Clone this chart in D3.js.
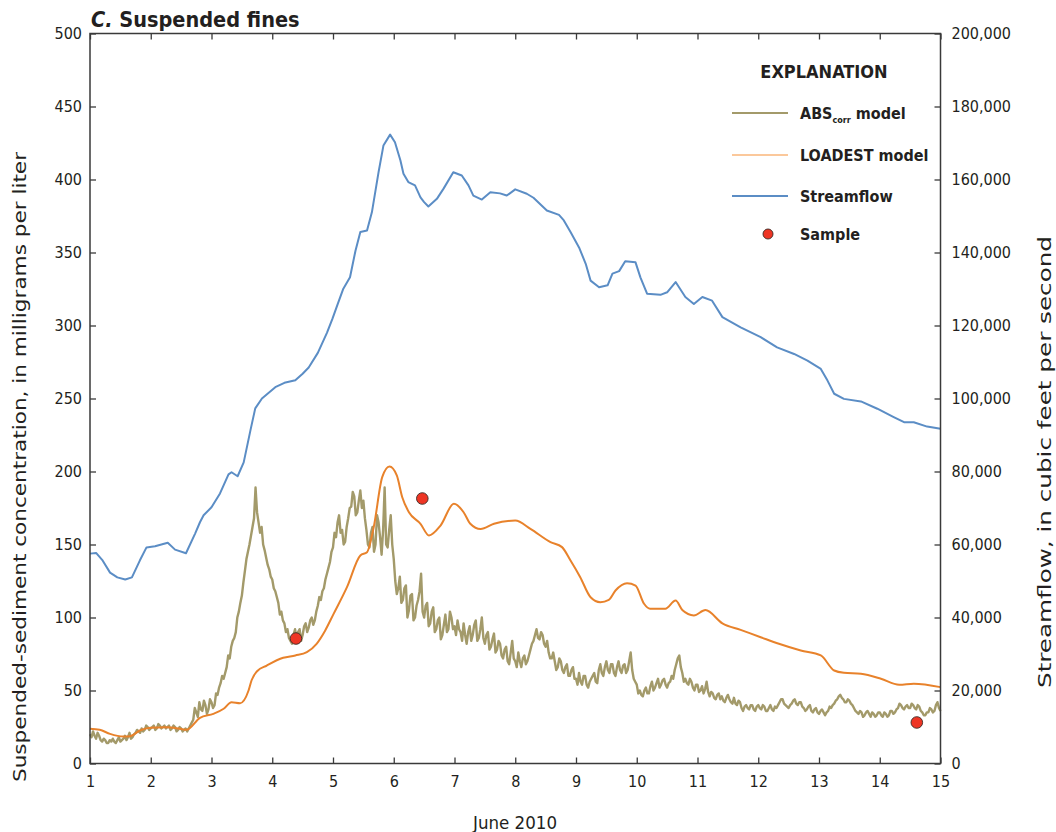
<!DOCTYPE html>
<html><head><meta charset="utf-8">
<script src="https://cdn.jsdelivr.net/npm/d3@7"></script>
<style>
body{margin:0;background:#fff;}
svg{display:block;}
text{font-family:"Liberation Sans Narrow","DejaVu Sans Condensed","Roboto Condensed","Arial Narrow",sans-serif;fill:#231f20;}
</style></head>
<body>
<svg id="chart" width="1056" height="832"></svg>
<script>
// ---- DATA ----
const dayTicks = [1,2,3,4,5,6,7,8,9,10,11,12,13,14,15];
const concTicks = [0,50,100,150,200,250,300,350,400,450,500];
const flowTicks = [0,20000,40000,60000,80000,100000,120000,140000,160000,180000,200000];

// Streamflow, cubic feet per second: [day, value]
const streamflow = [[1.0,57500],[1.1,57700],[1.2,55800],[1.33,52300],[1.45,51000],[1.58,50400],[1.69,51000],[1.82,55600],[1.93,59200],[2.07,59500],[2.28,60500],[2.40,58600],[2.58,57600],[2.73,63000],[2.81,66100],[2.87,68000],[3.0,70200],[3.14,74000],[3.28,79200],[3.33,79800],[3.43,78700],[3.53,82500],[3.64,91200],[3.72,97300],[3.83,100000],[4.05,103100],[4.2,104300],[4.38,105000],[4.5,106800],[4.6,108500],[4.75,112500],[4.9,118000],[4.99,121800],[5.08,126000],[5.17,130100],[5.28,133200],[5.37,140500],[5.45,145600],[5.56,146000],[5.64,151000],[5.75,162000],[5.83,169300],[5.94,172300],[6.02,170200],[6.11,165200],[6.16,161600],[6.24,159300],[6.35,158400],[6.44,155100],[6.50,153800],[6.57,152600],[6.71,154700],[6.82,157500],[6.98,162000],[7.12,161100],[7.23,158400],[7.31,155600],[7.45,154500],[7.59,156500],[7.75,156200],[7.86,155600],[8.0,157300],[8.19,156100],[8.30,155000],[8.52,151500],[8.72,150300],[8.80,148800],[8.91,145600],[9.05,141400],[9.16,136900],[9.24,132300],[9.38,130500],[9.52,131000],[9.60,134200],[9.71,134900],[9.81,137600],[9.98,137300],[10.06,133200],[10.17,128700],[10.39,128400],[10.50,129100],[10.64,131900],[10.80,127800],[10.94,125900],[11.08,127800],[11.24,126800],[11.41,122300],[11.71,119500],[12.04,116800],[12.31,114000],[12.59,112200],[12.81,110400],[13.03,108100],[13.14,104900],[13.25,101300],[13.41,99900],[13.69,99200],[13.96,97200],[14.23,94900],[14.40,93500],[14.56,93500],[14.78,92300],[15.0,91700]];

// LOADEST model, mg/L: [day, value]
const loadest = [[1.0,23.8],[1.16,23.1],[1.33,20.3],[1.55,18.5],[1.66,18.7],[1.82,22.6],[1.99,24.5],[2.26,24.9],[2.48,23.8],[2.59,23.1],[2.81,31.3],[3.03,34.0],[3.20,37.5],[3.33,42.0],[3.47,41.3],[3.61,50.0],[3.66,57],[3.75,63.2],[3.91,67.1],[4.18,72.4],[4.38,74.0],[4.57,76.3],[4.73,82.0],[4.87,91],[5.01,102.5],[5.23,120.8],[5.45,142.5],[5.56,144.7],[5.67,161.8],[5.81,196.1],[5.93,203.4],[6.05,197.3],[6.14,182.4],[6.25,172.1],[6.44,164.2],[6.58,156.2],[6.77,163.0],[6.99,177.9],[7.15,172.1],[7.26,164.2],[7.43,160.6],[7.65,164.2],[8.00,166.4],[8.25,160.7],[8.58,151.6],[8.77,148.2],[8.91,139.0],[9.07,127.6],[9.24,113.9],[9.40,110.5],[9.54,112.1],[9.65,118.5],[9.84,123.5],[9.98,121.9],[10.12,109.4],[10.22,106.0],[10.47,106.0],[10.64,111.6],[10.75,105.1],[10.94,101.4],[11.13,105.1],[11.41,96.0],[11.71,91.5],[12.04,86.5],[12.34,82.0],[12.70,77.4],[13.03,74.0],[13.25,63.7],[13.41,62.1],[13.69,61.4],[14.02,58.0],[14.32,53.9],[14.56,54.6],[15.0,52.3]];

// ABScorr model, mg/L, sampled every 0.025 day from day 1
const absStart = 1, absStep = 0.025;
const absValues = [
20,18,22,19,17,21,19,16,15,17,16,14,14,16,15,17,15,14,16,18,15,16,17,19,16,18,21,17,18,20,21,23,22,21,24,22,23,26,25,23,
24,25,26,23,24,27,26,24,25,26,24,25,26,23,24,26,25,22,23,25,24,22,23,24,22,24,26,28,30,38,35,32,42,37,36,43,40,34,37,44,
42,38,40,48,47,52,55,60,58,62,66,74,72,80,84,86,90,100,104,110,115,124,132,140,145,150,156,162,168,189,172,165,158,162,150,146,141,136,133,128,
126,120,118,114,110,102,104,98,96,90,92,86,84,82,88,92,86,90,92,84,88,94,96,90,93,98,100,95,98,104,108,114,112,118,120,126,130,134,138,145,
148,158,155,165,170,158,160,150,152,162,168,175,176,186,183,170,172,180,187,175,180,168,160,150,148,158,162,145,150,170,165,155,143,160,189,150,148,160,170,150,
140,125,116,120,128,110,112,120,122,100,105,115,116,98,100,108,112,118,130,104,100,108,110,94,96,104,107,90,92,98,100,85,88,95,102,90,92,104,100,92,
94,88,98,92,90,84,96,88,82,90,94,84,88,95,98,84,86,92,100,86,82,88,90,78,80,85,89,76,78,84,82,74,72,78,80,70,68,76,84,72,
70,66,76,70,66,72,74,68,70,74,78,82,84,88,92,86,85,90,88,82,80,84,76,72,72,76,70,64,66,72,70,64,62,66,68,60,60,64,66,58,
58,54,62,56,54,60,60,54,52,56,58,60,62,56,55,64,68,62,60,66,70,64,62,68,68,62,60,66,70,64,62,67,68,62,64,70,76,64,58,56,
54,48,50,47,46,50,52,48,48,53,56,50,52,55,58,52,54,57,58,54,52,55,56,60,58,64,68,72,74,66,62,56,58,55,54,58,56,52,50,54,
54,49,50,53,48,51,56,49,46,49,48,45,44,47,48,44,46,43,42,45,47,44,42,41,45,41,40,43,42,38,36,39,40,38,37,40,40,37,36,39,
40,38,37,40,39,36,36,38,40,37,36,39,38,40,42,44,44,41,40,39,38,40,41,43,44,41,40,42,42,39,38,36,37,39,40,36,35,37,38,35,
34,36,37,35,33,35,36,39,38,40,41,43,44,46,47,45,44,42,42,44,43,41,40,38,36,35,34,36,35,32,33,35,36,34,32,35,34,32,33,35,
35,33,32,35,34,32,33,36,36,34,35,37,38,41,40,38,37,39,40,38,38,41,40,38,37,40,39,36,35,33,33,35,35,38,37,35,36,40,42,38,
36];

// Samples, mg/L: [day, value]
const samples = [[4.39,85.6],[6.47,181.5],[14.61,28.1]];

const legendLabels = ["ABS","LOADEST model","Streamflow","Sample"];

// ---- CHART ----
const svg = d3.select("#chart");
const L = 90, R = 940.5, T = 33.5, B = 763.5;
const x = d3.scaleLinear().domain([1,15]).range([L,R]);
const yL = d3.scaleLinear().domain([0,500]).range([B,T]);
const yR = d3.scaleLinear().domain([0,200000]).range([B,T]);

const C = {abs:"#a39a6a", load:"#e8822b", flow:"#5b8dc5", sample:"#ee3524", axis:"#3a3a3a"};

// lines
const flowLine = d3.line().x(d=>x(d[0])).y(d=>yR(d[1]));
svg.append("path").datum(streamflow).attr("d",flowLine)
  .attr("fill","none").attr("stroke",C.flow).attr("stroke-width",2).attr("stroke-linejoin","round");

const absData = absValues.map((v,i)=>[absStart+i*absStep, v]);
const concLine = d3.line().x(d=>x(d[0])).y(d=>yL(d[1]));
svg.append("path").datum(absData).attr("d",concLine)
  .attr("fill","none").attr("stroke",C.abs).attr("stroke-width",2.4).attr("stroke-linejoin","round");

svg.append("path").datum(loadest).attr("d",concLine.curve(d3.curveMonotoneX))
  .attr("fill","none").attr("stroke",C.load).attr("stroke-width",2).attr("stroke-linejoin","round");

svg.selectAll("circle.s").data(samples).enter().append("circle")
  .attr("cx",d=>x(d[0])).attr("cy",d=>yL(d[1])).attr("r",5.8)
  .attr("fill",C.sample).attr("stroke","#3a2a25").attr("stroke-width",0.9);

// axes
function styleAxis(g){
  g.select(".domain").remove();
  g.selectAll(".tick line").attr("stroke",C.axis).attr("stroke-width",1.3);
  g.selectAll(".tick text").attr("font-size",16).attr("fill","#231f20");
}
svg.append("g").attr("transform",`translate(0,${B})`)
  .call(d3.axisBottom(x).tickValues(dayTicks).tickFormat(d3.format("d")).tickSize(-6).tickPadding(12)).call(styleAxis);
svg.append("g").attr("transform",`translate(0,${T})`)
  .call(d3.axisTop(x).tickValues(dayTicks).tickFormat("").tickSize(-6)).call(styleAxis);
svg.append("g").attr("transform",`translate(${L},0)`)
  .call(d3.axisLeft(yL).tickValues(concTicks).tickFormat(d3.format("d")).tickSize(-6).tickPadding(8)).call(styleAxis);
svg.append("g").attr("transform",`translate(${R},0)`)
  .call(d3.axisRight(yR).tickValues(flowTicks).tickFormat(d3.format(",")).tickSize(-6).tickPadding(11)).call(styleAxis);

// frame
svg.append("rect").attr("x",L).attr("y",T).attr("width",R-L).attr("height",B-T)
  .attr("fill","none").attr("stroke",C.axis).attr("stroke-width",1.5);

// title
const title = svg.append("text").attr("x",91).attr("y",27).attr("font-size",21.5).attr("font-weight","bold");
title.append("tspan").attr("font-style","italic").text("C.");
title.append("tspan").text(" Suspended fines");

// axis titles
svg.append("text").attr("transform","translate(26,467) rotate(-90)").attr("text-anchor","middle")
  .attr("font-size",18).attr("textLength",630).attr("lengthAdjust","spacingAndGlyphs")
  .text("Suspended-sediment concentration, in milligrams per liter");
svg.append("text").attr("transform","translate(1051,462) rotate(-90)").attr("text-anchor","middle")
  .attr("font-size",18).attr("textLength",452).attr("lengthAdjust","spacingAndGlyphs")
  .text("Streamflow, in cubic feet per second");
svg.append("text").attr("x",515).attr("y",829).attr("text-anchor","middle")
  .attr("font-size",18).attr("textLength",84).attr("lengthAdjust","spacingAndGlyphs").text("June 2010");

// legend
svg.append("text").attr("x",824).attr("y",78).attr("text-anchor","middle")
  .attr("font-size",18).attr("font-weight","bold").text("EXPLANATION");
const rows = [
  {y:113, color:C.abs, type:"line"},
  {y:155, color:"#fbc89b", type:"line"},
  {y:196, color:C.flow, type:"line"},
  {y:234, color:C.sample, type:"dot"}
];
rows.forEach((r,i)=>{
  if(r.type==="line"){
    svg.append("line").attr("x1",732).attr("x2",788).attr("y1",r.y).attr("y2",r.y)
      .attr("stroke",r.color).attr("stroke-width",2);
  } else {
    svg.append("circle").attr("cx",768).attr("cy",r.y).attr("r",5).attr("fill",r.color)
      .attr("stroke","#3a2a25").attr("stroke-width",0.9);
  }
  const t = svg.append("text").attr("x",800).attr("y",r.y+6).attr("font-size",16).attr("font-weight","bold");
  if(i===0){
    t.append("tspan").text(legendLabels[0]);
    t.append("tspan").attr("font-size",9).attr("dy",4).text("corr");
    t.append("tspan").attr("dy",-4).text(" model");
  } else {
    t.text(legendLabels[i]);
  }
});
</script>
</body></html>
